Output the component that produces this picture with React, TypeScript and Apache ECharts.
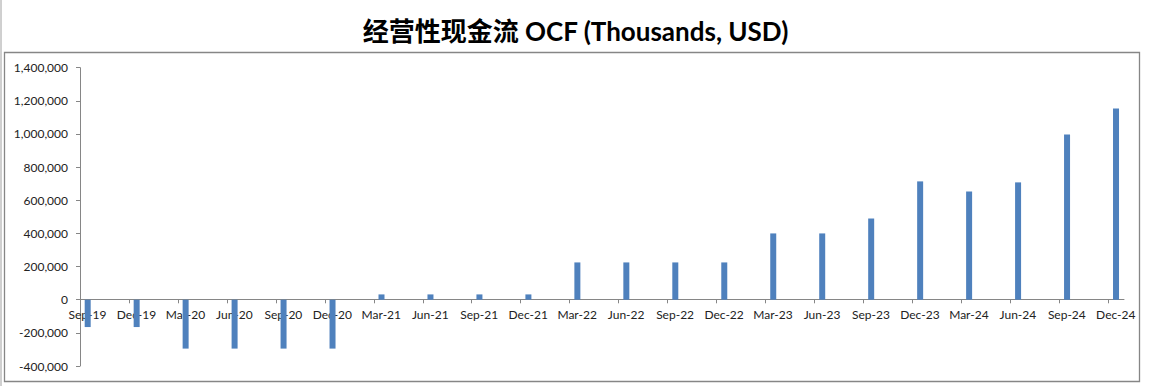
import React, { useEffect, useRef } from "react";
import * as echarts from "echarts";

const categories = [
  "Sep-19", "Dec-19", "Mar-20", "Jun-20", "Sep-20", "Dec-20",
  "Mar-21", "Jun-21", "Sep-21", "Dec-21", "Mar-22", "Jun-22",
  "Sep-22", "Dec-22", "Mar-23", "Jun-23", "Sep-23", "Dec-23",
  "Mar-24", "Jun-24", "Sep-24", "Dec-24",
];

const ocf = [
  -165000, -165000, -295000, -295000, -295000, -295000,
  32000, 32000, 32000, 32000, 225000, 225000,
  225000, 225000, 400000, 400000, 490000, 714000,
  653000, 708000, 997000, 1154000,
];

const yMin = -400000;
const yMax = 1400000;
const yStep = 200000;

const titleText = "经营性现金流 OCF (Thousands, USD)";

const BAR_OFFSET = 0.157; // bars sit just right of each tick (date-axis look)
const X_EXTRA = 21.32; // axis runs a little past the last tick

const AXIS_COLOR = "#868686";
const BAR_COLOR = "#4F81BD";
const FONT = "Lato, 'Noto Sans CJK SC', sans-serif";

const PLOT_TOP = 67.7;
const PLOT_BOTTOM = 23;
const ZERO_Y = 299.3;

export default function App() {
  const ref = useRef<HTMLDivElement>(null);

  useEffect(() => {
    document.body.style.margin = "0";
    if (!ref.current) return;
    const chart = echarts.init(ref.current, undefined, { renderer: "svg" });
    const lastIdx = categories.length - 1;

    chart.setOption({
      animation: false,
      backgroundColor: "#ffffff",
      title: {
        text: titleText,
        left: "center",
        top: 13,
        textStyle: {
          fontFamily: FONT,
          fontWeight: "bold",
          fontSize: 26,
          color: "#000000",
        },
      },
      graphic: [
        {
          type: "rect",
          shape: { x: 4.5, y: 52.5, width: 1135, height: 329 },
          style: { fill: "none", stroke: AXIS_COLOR, lineWidth: 1.3 },
          silent: true,
        },
        {
          type: "line",
          shape: { x1: 1, y1: 0, x2: 1, y2: 386 },
          style: { stroke: "#a0a0a0", lineWidth: 1 },
          silent: true,
        },
      ],
      grid: [
        { left: 80, right: 27, top: PLOT_TOP, bottom: PLOT_BOTTOM, containLabel: false },
        { left: 80, right: 1151 - 1108.3, top: PLOT_TOP, bottom: 389 - ZERO_Y, containLabel: false },
      ],
      xAxis: [
        {
          type: "value",
          gridIndex: 0,
          min: 0,
          max: X_EXTRA,
          interval: 1,
          axisLine: { show: true, onZero: true, lineStyle: { color: AXIS_COLOR, width: 1 } },
          axisTick: { show: false },
          axisLabel: { show: false },
          splitLine: { show: false },
        },
        {
          type: "value",
          gridIndex: 1,
          position: "bottom",
          min: 0,
          max: lastIdx,
          interval: 1,
          axisLine: { show: false, onZero: false },
          axisTick: { show: true, length: 4, lineStyle: { color: AXIS_COLOR } },
          axisLabel: {
            show: true,
            margin: 9,
            fontFamily: FONT,
            fontSize: 12,
            color: "#222222",
            padding: [0, 0, 0, 15],
            formatter: (v: number) => categories[Math.round(v)] ?? "",
          },
          splitLine: { show: false },
        },
      ],
      yAxis: [
        {
          type: "value",
          gridIndex: 0,
          min: yMin,
          max: yMax,
          interval: yStep,
          axisLine: { show: true, lineStyle: { color: AXIS_COLOR, width: 1 } },
          axisTick: { show: true, length: 4, lineStyle: { color: AXIS_COLOR } },
          axisLabel: {
            margin: 12,
            fontFamily: FONT,
            fontSize: 12,
            color: "#222222",
            formatter: (v: number) => v.toLocaleString("en-US"),
          },
          splitLine: { show: false },
        },
        {
          type: "value",
          gridIndex: 1,
          min: 0,
          max: yMax,
          axisLine: { show: false },
          axisTick: { show: false },
          axisLabel: { show: false },
          splitLine: { show: false },
        },
      ],
      series: [
        {
          type: "bar",
          xAxisIndex: 0,
          yAxisIndex: 0,
          barWidth: 6,
          itemStyle: { color: BAR_COLOR },
          data: categories.map((_, i) => [i + BAR_OFFSET, ocf[i]]),
        },
      ],
    });

    return () => chart.dispose();
  }, []);

  return (
    <div
      ref={ref}
      style={{ position: "absolute", left: 0, top: 0, width: 1151, height: 389 }}
    />
  );
}
